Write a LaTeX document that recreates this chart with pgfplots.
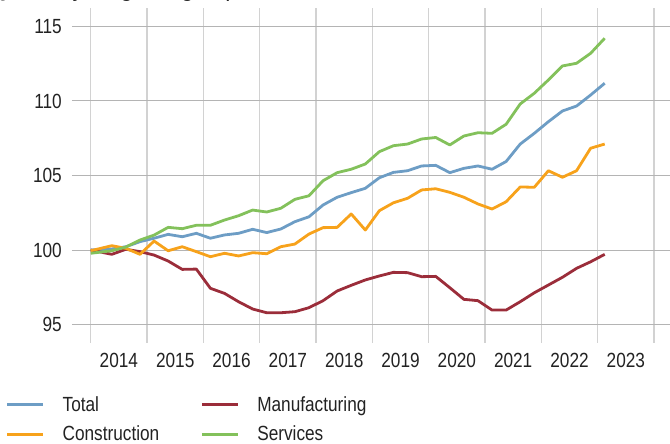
\documentclass[border=0pt]{standalone}
\usepackage{fontspec}
\setmainfont[FakeStretch=0.84]{Liberation Sans}
\newfontfamily\topfont[FakeStretch=0.95]{Liberation Sans}
\usepackage{pgfplots}
\pgfplotsset{compat=1.18}
\usepackage{pgfplotstable}
\definecolor{ctot}{HTML}{6D9DC5}
\definecolor{cman}{HTML}{9B2D3A}
\definecolor{ccon}{HTML}{F7A21B}
\definecolor{cser}{HTML}{83C15B}
\definecolor{gridv}{HTML}{D2D2D2}
\definecolor{gridh}{HTML}{B4B4B4}
\definecolor{txt}{HTML}{222222}

\pgfplotstableread{
x        tot     man     con     ser
2014.000 100.00  100.00  99.95   99.78
2014.375 100.07  99.71   100.29  99.95
2014.625 100.22  100.05  100.11  100.20
2014.875 100.56  99.89   99.71   100.67
2015.125 100.79  99.66   100.60  101.00
2015.375 101.05  99.26   99.95   101.52
2015.625 100.89  98.70   100.22  101.43
2015.875 101.12  98.72   99.89   101.66
2016.125 100.79  97.43   99.55   101.66
2016.375 101.01  97.09   99.78   102.01
2016.625 101.12  96.53   99.60   102.30
2016.875 101.39  96.04   99.82   102.68
2017.125 101.17  95.79   99.75   102.55
2017.375 101.41  95.79   100.22  102.80
2017.625 101.90  95.86   100.40  103.40
2017.875 102.23  96.13   101.07  103.64
2018.125 103.02  96.60   101.50  104.65
2018.375 103.54  97.25   101.52  105.19
2018.625 103.85  97.63   102.42  105.42
2018.875 104.14  97.99   101.34  105.77
2019.125 104.85  98.26   102.64  106.60
2019.375 105.21  98.50   103.17  107.00
2019.625 105.32  98.48   103.47  107.11
2019.875 105.64  98.21   104.03  107.45
2020.125 105.68  98.23   104.11  107.55
2020.375 105.19  97.47   103.87  107.05
2020.625 105.48  96.69   103.54  107.65
2020.875 105.64  96.60   103.09  107.87
2021.125 105.42  95.97   102.75  107.83
2021.375 105.94  95.97   103.24  108.44
2021.625 107.11  96.53   104.23  109.80
2021.875 107.83  97.13   104.21  110.52
2022.125 108.61  97.65   105.32  111.41
2022.375 109.33  98.17   104.88  112.35
2022.625 109.66  98.77   105.32  112.53
2022.875 110.40  99.21   106.83  113.20
2023.125 111.19  99.71   107.11  114.21
}\data

\begin{document}
\begin{tikzpicture}
\useasboundingbox (0pt,0pt) rectangle (670pt,444pt);
\clip (0pt,0pt) rectangle (670pt,444pt);
\node[anchor=base west, inner sep=0pt, text=txt, font=\topfont\fontsize{24}{28}\selectfont] at (-10pt,447pt) {Quarterly, beginning of period = 100};
\begin{axis}[
  at={(72pt,101pt)}, anchor=south west,
  scale only axis, width=598pt, height=335pt,
  xmin=2013.668, xmax=2024.284, ymin=93.76, ymax=116.24,
  axis line style={draw=none},
  major tick length=0pt, minor tick length=0pt,
  xtick={2014.5,2015.5,2016.5,2017.5,2018.5,2019.5,2020.5,2021.5,2022.5,2023.5},
  xticklabels={2014,2015,2016,2017,2018,2019,2020,2021,2022,2023},
  minor xtick={2014,2015,2016,2017,2018,2019,2020,2021,2022,2023,2024},
  xminorgrids=true, xmajorgrids=false,
  ytick={95,100,105,110,115},
  ymajorgrids=true,
  minor x grid style={color=gridv, line width=1.5pt},
  major y grid style={color=gridh, line width=1pt},
  minor grid style={color=gridv, line width=1.5pt},
  major grid style={color=gridh, line width=1pt},
  /pgf/number format/assume math mode=true,
  tick label style={font=\fontsize{20.5}{24}\selectfont, text=txt},
  yticklabel style={inner sep=0pt, anchor=east, xshift=-10pt},
  xticklabel style={inner sep=0pt, anchor=north, yshift=-10pt},
  no markers,
  every axis plot/.append style={line width=2.8pt, line join=round},
  legend columns=2,
  legend cell align=left,
  legend image code/.code={\draw[#1, line width=3pt] (0pt,0pt) -- (36pt,0pt);},
  legend style={at={(-0.111,-0.160)}, anchor=north west, draw=none, fill=none,
    inner sep=0pt, outer sep=0pt, font=\fontsize{20.5}{24}\selectfont, text=txt,
    nodes={inner sep=0pt}, row sep=13pt, column sep=0pt,
    /tikz/every odd column/.append style={column sep=18pt},
    /tikz/every even column/.append style={column sep=41pt}},
]
\addplot[color=ctot] table[x=x,y=tot]{\data};
\addlegendentry{Total}
\addplot[color=cman] table[x=x,y=man]{\data};
\addlegendentry{Manufacturing}
\addplot[color=ccon] table[x=x,y=con]{\data};
\addlegendentry{Construction}
\addplot[color=cser] table[x=x,y=ser]{\data};
\addlegendentry{Services}
\end{axis}
\end{tikzpicture}
\end{document}
